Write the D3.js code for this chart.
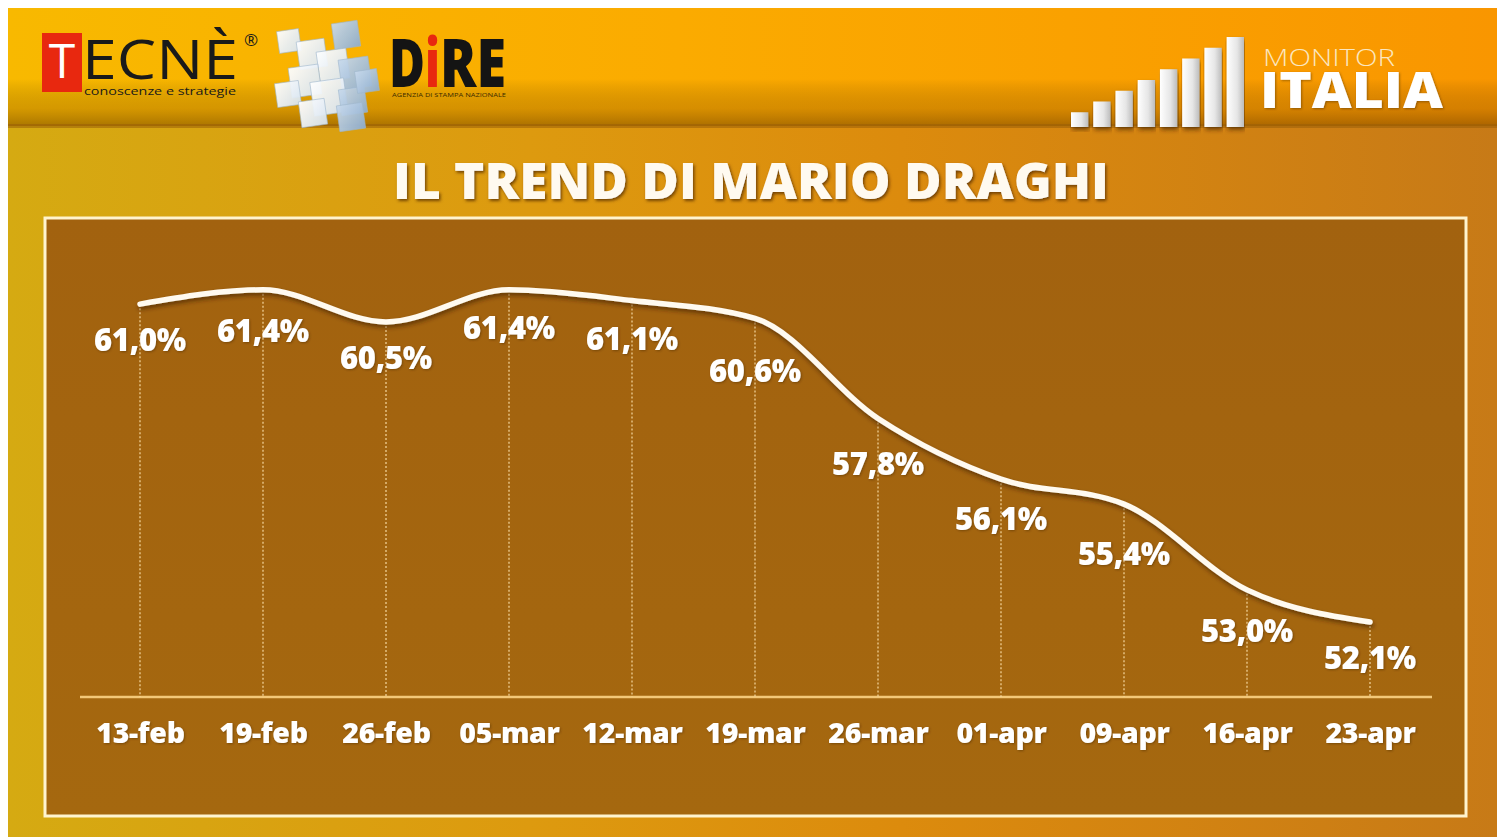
<!DOCTYPE html>
<html>
<head>
<meta charset="utf-8">
<script src="https://cdn.jsdelivr.net/npm/d3@7/dist/d3.min.js"></script>
<style>
  html,body{margin:0;padding:0;background:#fff;}
  svg{display:block;}
  text{font-family:"Open Sans","DejaVu Sans",sans-serif;}
</style>
</head>
<body>
<svg id="chart" width="1502" height="840"></svg>
<script>
// ---------- DATA ----------
const categories = ["13-feb","19-feb","26-feb","05-mar","12-mar","19-mar","26-mar","01-apr","09-apr","16-apr","23-apr"];
const values = [61.0, 61.4, 60.5, 61.4, 61.1, 60.6, 57.8, 56.1, 55.4, 53.0, 52.1];
const valueLabels = ["61,0%","61,4%","60,5%","61,4%","61,1%","60,6%","57,8%","56,1%","55,4%","53,0%","52,1%"];
const title = "IL TREND DI MARIO DRAGHI";
const yDomain = [50, 64];
const logoBars = [1, 2, 3, 4, 5, 6, 7, 8];

// ---------- SETUP ----------
const svg = d3.select("#chart");
const defs = svg.append("defs");

function linGrad(id, stops, x1, y1, x2, y2) {
  const g = defs.append("linearGradient").attr("id", id)
    .attr("x1", x1).attr("y1", y1).attr("x2", x2).attr("y2", y2);
  stops.forEach(s => g.append("stop").attr("offset", s[0]).attr("stop-color", s[1]).attr("stop-opacity", s[2] == null ? 1 : s[2]));
  return g;
}
linGrad("bgMain", [[0,"#d5aa12"],[0.35,"#dd9a0f"],[0.6,"#dc8b0d"],[1,"#c77a17"]], 0,0,1,0);
linGrad("bgHead", [[0,"#f8b900"],[0.45,"#fbab00"],[1,"#f99600"]], 0,0,1,0);
linGrad("headShade", [[0,"#000",0],[0.6,"#000",0],[0.85,"#6a3a00",0.25],[1,"#4a2500",0.45]], 0,0,0,1);
linGrad("panelFill", [[0,"#a2620f"],[1,"#a5680f"]], 0,0,0,1);
linGrad("barFill", [[0,"#ffffff"],[0.6,"#e6e6e6"],[1,"#bcbcbc"]], 0,0,1,0);
linGrad("cubeA", [[0,"#ffffff"],[1,"#d6e3f0"]], 0,0,1,1);
linGrad("cubeB", [[0,"#c9daec"],[1,"#8eaed0"]], 0,0,1,1);

const sh = defs.append("filter").attr("id","txtShadow").attr("x","-10%").attr("y","-20%").attr("width","130%").attr("height","150%");
sh.append("feDropShadow").attr("dx",1.5).attr("dy",2).attr("stdDeviation",1.5).attr("flood-color","#5a3300").attr("flood-opacity",0.8);
const lsh = defs.append("filter").attr("id","lineShadow").attr("x","-5%").attr("y","-20%").attr("width","110%").attr("height","150%");
lsh.append("feDropShadow").attr("dx",1).attr("dy",3).attr("stdDeviation",2).attr("flood-color","#3d2000").attr("flood-opacity",0.6);
const lblSh = defs.append("filter").attr("id","lblShadow").attr("x","-10%").attr("y","-20%").attr("width","130%").attr("height","150%");
lblSh.append("feDropShadow").attr("dx",1).attr("dy",1).attr("stdDeviation",1).attr("flood-color","#4a2a00").attr("flood-opacity",0.5);

// ---------- BACKGROUND ----------
svg.append("rect").attr("x",8).attr("y",8).attr("width",1489).attr("height",829).attr("fill","url(#bgMain)");
svg.append("rect").attr("x",8).attr("y",8).attr("width",1489).attr("height",118).attr("fill","url(#bgHead)");
svg.append("rect").attr("x",8).attr("y",8).attr("width",1489).attr("height",118).attr("fill","url(#headShade)");
svg.append("rect").attr("x",8).attr("y",124).attr("width",1489).attr("height",4).attr("fill","#9a5e08").attr("opacity",0.55);

// ---------- LOGOS ----------
const logo = svg.append("g");
// TECNÈ
logo.append("rect").attr("x",42).attr("y",33).attr("width",40).attr("height",59).attr("fill","#e8280f");
logo.append("text").attr("x",62).attr("y",78).attr("text-anchor","middle").attr("font-size",48)
  .attr("font-family","Liberation Sans, sans-serif").attr("fill","#fff").text("T");
logo.append("text").attr("x",82).attr("y",79).attr("font-size",54).attr("font-family","Liberation Sans, sans-serif")
  .attr("fill","#1a1a1a").attr("textLength",156).attr("lengthAdjust","spacingAndGlyphs").text("ECNÈ");
logo.append("text").attr("x",244).attr("y",46).attr("font-size",17).attr("font-family","Liberation Sans, sans-serif").attr("fill","#1a1a1a").text("®");
logo.append("text").attr("x",84).attr("y",95).attr("font-size",11).attr("font-family","Liberation Sans, sans-serif")
  .attr("fill","#1a1a1a").attr("textLength",152).attr("lengthAdjust","spacingAndGlyphs").text("conoscenze e strategie");

// cubes
const cubes = [
  [278,30,22,"cubeA"],[333,22,26,"cubeB"],[298,40,28,"cubeA"],[318,50,30,"cubeA"],
  [340,58,30,"cubeB"],[290,66,30,"cubeA"],[312,80,34,"cubeA"],[340,88,26,"cubeB"],
  [276,82,24,"cubeA"],[300,100,26,"cubeA"],[338,104,26,"cubeB"],[356,70,22,"cubeB"]
];
logo.selectAll("rect.cube").data(cubes).join("rect").attr("class","cube")
  .attr("x",d=>d[0]).attr("y",d=>d[1]).attr("width",d=>d[2]).attr("height",d=>d[2])
  .attr("fill",d=>`url(#${d[3]})`).attr("stroke","#9fb6cc").attr("stroke-width",0.6)
  .attr("transform",d=>`rotate(-8 ${d[0]+d[2]/2} ${d[1]+d[2]/2})`).attr("opacity",0.95);

// DIRE (as separate pieces so they don't overlap)
const direParts = [["D",389,36,"#141414"],["i",425,15,"#e8280f"],["RE",440,66,"#141414"]];
logo.selectAll("text.dire").data(direParts).join("text").attr("class","dire")
  .attr("x",d=>d[1]).attr("y",87).attr("font-size",68).attr("font-weight",800)
  .attr("font-family","Liberation Sans Narrow, Liberation Sans, sans-serif")
  .attr("fill",d=>d[3]).attr("textLength",d=>d[2]).attr("lengthAdjust","spacingAndGlyphs")
  .text(d=>d[0]);
logo.append("text").attr("x",392).attr("y",97).attr("font-size",6).attr("fill","#3a2a00")
  .attr("font-family","Liberation Serif, serif").attr("textLength",114).attr("lengthAdjust","spacingAndGlyphs")
  .text("AGENZIA DI STAMPA NAZIONALE");

// MONITOR ITALIA
const barX = d3.scaleBand().domain(logoBars).range([1071, 1244]).paddingInner(0.22);
const barH = d3.scaleLinear().domain([0, 8]).range([4, 90]);
logo.selectAll("rect.lbar").data(logoBars).join("rect").attr("class","lbar")
  .attr("x",d=>barX(d)).attr("y",d=>127-barH(d)).attr("width",barX.bandwidth()).attr("height",d=>barH(d))
  .attr("fill","url(#barFill)").attr("filter","url(#lineShadow)");
logo.append("text").attr("x",1263).attr("y",66).attr("font-size",24).attr("font-weight",300)
  .attr("fill","#fbe6bf").attr("textLength",132).attr("lengthAdjust","spacingAndGlyphs").text("MONITOR");
logo.append("text").attr("x",1260).attr("y",108).attr("font-size",50).attr("font-weight",800)
  .attr("fill","#fff").attr("textLength",183).attr("lengthAdjust","spacingAndGlyphs")
  .attr("filter","url(#lblShadow)").text("ITALIA");

// ---------- TITLE ----------
svg.append("text").attr("x",751).attr("y",199).attr("text-anchor","middle")
  .attr("font-size",49).attr("font-weight",800).attr("fill","#fffaf0")
  .attr("textLength",716).attr("lengthAdjust","spacingAndGlyphs")
  .attr("filter","url(#txtShadow)").text(title);

// ---------- PANEL ----------
svg.append("rect").attr("x",45).attr("y",218).attr("width",1421).attr("height",598)
  .attr("fill","url(#panelFill)").attr("stroke","#fff4cf").attr("stroke-width",3);

// ---------- SCALES ----------
const x = d3.scalePoint().domain(categories).range([140, 1370]);
const y = d3.scaleLinear().domain(yDomain).range([697, 197]);

// baseline axis
const axisG = svg.append("g").attr("transform","translate(0,697)")
  .call(d3.axisBottom(x).tickSize(0).tickPadding(26));
axisG.select(".domain").remove();
axisG.append("line").attr("x1",80).attr("x2",1432).attr("y1",0).attr("y2",0)
  .attr("stroke","#f3c878").attr("stroke-width",2.5);
axisG.selectAll(".tick text").attr("fill","#fff").attr("font-size",28.5).attr("font-weight",800)
  .attr("font-family","\"Open Sans\",sans-serif").attr("letter-spacing",-0.3)
  .attr("dy","0.71em").attr("filter","url(#lblShadow)");

// drop lines
svg.append("g").selectAll("line").data(values).join("line")
  .attr("x1",(d,i)=>x(categories[i])).attr("x2",(d,i)=>x(categories[i]))
  .attr("y1",d=>y(d)).attr("y2",697)
  .attr("stroke","#f6d8a0").attr("stroke-width",1.2).attr("stroke-dasharray","2,2");

// line
const line = d3.line().x((d,i)=>x(categories[i])).y(d=>y(d)).curve(d3.curveMonotoneX);
svg.append("path").datum(values).attr("d",line).attr("fill","none")
  .attr("stroke","#fffaf0").attr("stroke-width",5.5).attr("stroke-linecap","round")
  .attr("filter","url(#lineShadow)");

// value labels
const offset = (d,i) => 36 + 6*Math.max(0, i < values.length-1 ? d - values[i+1] : 0);
svg.append("g").selectAll("text").data(values).join("text")
  .attr("x",(d,i)=>x(categories[i]))
  .attr("y",(d,i)=>y(d)+offset(d,i))
  .attr("dy","0.35em")
  .attr("text-anchor","middle").attr("fill","#fff").attr("font-size",31).attr("font-weight",800)
  .attr("letter-spacing",-0.3).attr("filter","url(#lblShadow)")
  .text((d,i)=>valueLabels[i]);
</script>
</body>
</html>
